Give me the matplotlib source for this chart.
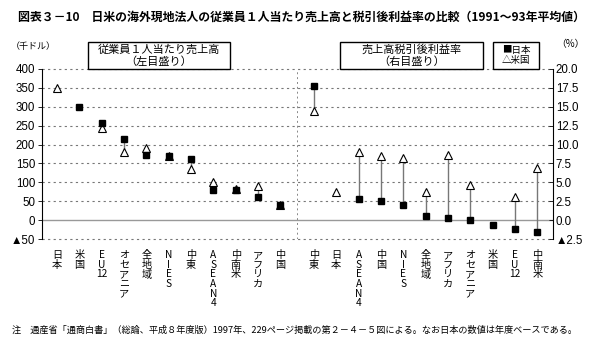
import matplotlib.pyplot as plt
from matplotlib.patches import Rectangle

plt.rcParams['font.family'] = ['Noto Sans CJK JP', 'DejaVu Sans']

# 従業員1人当たり売上高（千ドル）
sales_cats = ['日本', '米国', 'EU12', 'オセアニア', '全地域', 'NIES', '中東',
              'ASEAN4', '中南米', 'アフリカ', '中国']
sales_jp = [None, 300, 257, 215, 172, 170, 163, 80, 80, 62, 40]
sales_us = [350, None, 243, 180, 190, 170, 135, 100, 82, 90, 40]

# 売上高税引後利益率（%）
profit_cats = ['中東', '日本', 'ASEAN4', '中国', 'NIES', '全地域', 'アフリカ',
               'オセアニア', '米国', 'EU12', '中南米']
profit_jp = [17.8, None, 2.8, 2.5, 2.0, 0.6, 0.3, 0.0, -0.7, -1.2, -1.5]
profit_us = [14.4, 3.7, 9.0, 8.5, 8.2, 3.7, 8.6, 4.6, None, 3.1, 6.9]

left_ticks = [-50, 0, 50, 100, 150, 200, 250, 300, 350, 400]
right_ticks = [-2.5, 0, 2.5, 5, 7.5, 10, 12.5, 15, 17.5, 20]


def stack(name):
    # 縦書き風に1文字ずつ改行（数字の続きはまとめる）
    if name == 'EU12':
        return 'E\nU\n12'
    return '\n'.join(name)


def draw_pairs(ax, xs, jp, us):
    for x, a, b in zip(xs, jp, us):
        if a is not None and b is not None:
            ax.plot([x, x], [a, b], color='#777777', lw=1.0, zorder=2)
        if b is not None:
            ax.plot(x, b, marker='^', ms=5.5, mfc='white', mec='black',
                    mew=0.8, ls='none', zorder=4)
        if a is not None:
            ax.plot(x, a, marker='s', ms=4.5, color='black', ls='none', zorder=5)


fig = plt.figure(figsize=(5.92, 3.46), dpi=100)
ax = fig.add_axes([0.071, 0.309, 0.863, 0.4916])

x_left = list(range(len(sales_cats)))
x_right = [11.5 + i for i in range(len(profit_cats))]

ax.set_xlim(-0.67, 22.2)
ax.set_ylim(-50, 400)

# 目盛り線
for t in left_ticks:
    if t == 0:
        ax.axhline(t, color='#999999', lw=1.0, zorder=1)
    else:
        ax.axhline(t, color='#777777', lw=0.8, ls=(0, (2, 3)), zorder=1,
                   clip_on=False)
ax.axvline(10.75, color='#888888', lw=0.7, ls=(0, (2, 3)), zorder=1)

draw_pairs(ax, x_left, sales_jp, sales_us)

ax.spines['top'].set_visible(False)
ax.spines['bottom'].set_visible(False)
ax.spines['right'].set_visible(False)
ax.spines['left'].set_linewidth(0.8)

ax.set_yticks(left_ticks)
ax.set_yticklabels(['▲50' if t < 0 else str(t) for t in left_ticks],
                   family=['Liberation Sans', 'DejaVu Sans'], fontsize=8.3)
ax.tick_params(axis='y', length=3, width=0.6, pad=2)

ax.set_xticks(x_left + x_right)
ax.set_xticklabels([stack(c) for c in sales_cats + profit_cats],
                   fontsize=7.3, linespacing=0.95, va='top')
ax.tick_params(axis='x', length=0, pad=8)

ax2 = ax.twinx()
ax2.set_ylim(-2.5, 20)
ax2.set_xlim(-0.67, 22.2)
draw_pairs(ax2, x_right, profit_jp, profit_us)
for s in ['top', 'bottom', 'left']:
    ax2.spines[s].set_visible(False)
ax2.spines['right'].set_linewidth(0.8)
ax2.set_yticks(right_ticks)
ax2.set_yticklabels(['▲2.5' if t < 0 else f'{t:.1f}' for t in right_ticks],
                    family=['Liberation Sans', 'DejaVu Sans'], fontsize=8.3)
ax2.tick_params(axis='y', length=3, width=0.6, pad=2, direction='in')

# 系列名の枠（図座標のピクセル位置から）
W, H = 592, 346
boxes = [
    (88, 42, 230, 69, '従業員１人当たり売上高\n（左目盛り）', 8),
    (340, 42, 483, 69, '売上高税引後利益率\n（右目盛り）', 8),
    (493, 42, 539, 69, '■日本\n△米国', 6.8),
]
for x0, y0, x1, y1, label, size in boxes:
    fig.add_artist(Rectangle((x0 / W, 1 - y1 / H), (x1 - x0) / W, (y1 - y0) / H,
                             transform=fig.transFigure, fc='white', ec='black',
                             lw=1.0, zorder=10))
    fig.text((x0 + x1) / 2 / W, 1 - (y0 + y1) / 2 / H, label, ha='center',
             va='center', fontsize=size, linespacing=1.15, zorder=11)

fig.text(0.018, 0.866, '（千ドル）', fontsize=6.5, va='center')
fig.text(0.94, 0.872, '（%）', fontsize=7, va='center')

fig.text(0.03, 0.951,
         '図表３－10　日米の海外現地法人の従業員１人当たり売上高と税引後利益率の比較（1991～93年平均値）',
         fontsize=8.6, fontweight='bold', va='center')
fig.text(0.02, 0.046,
         '注　通産省「通商白書」（総論、平成８年度版）1997年、229ページ掲載の第２－４－５図による。なお日本の数値は年度ベースである。',
         fontsize=6.6, va='center')

fig.savefig('out.png', dpi=100)
